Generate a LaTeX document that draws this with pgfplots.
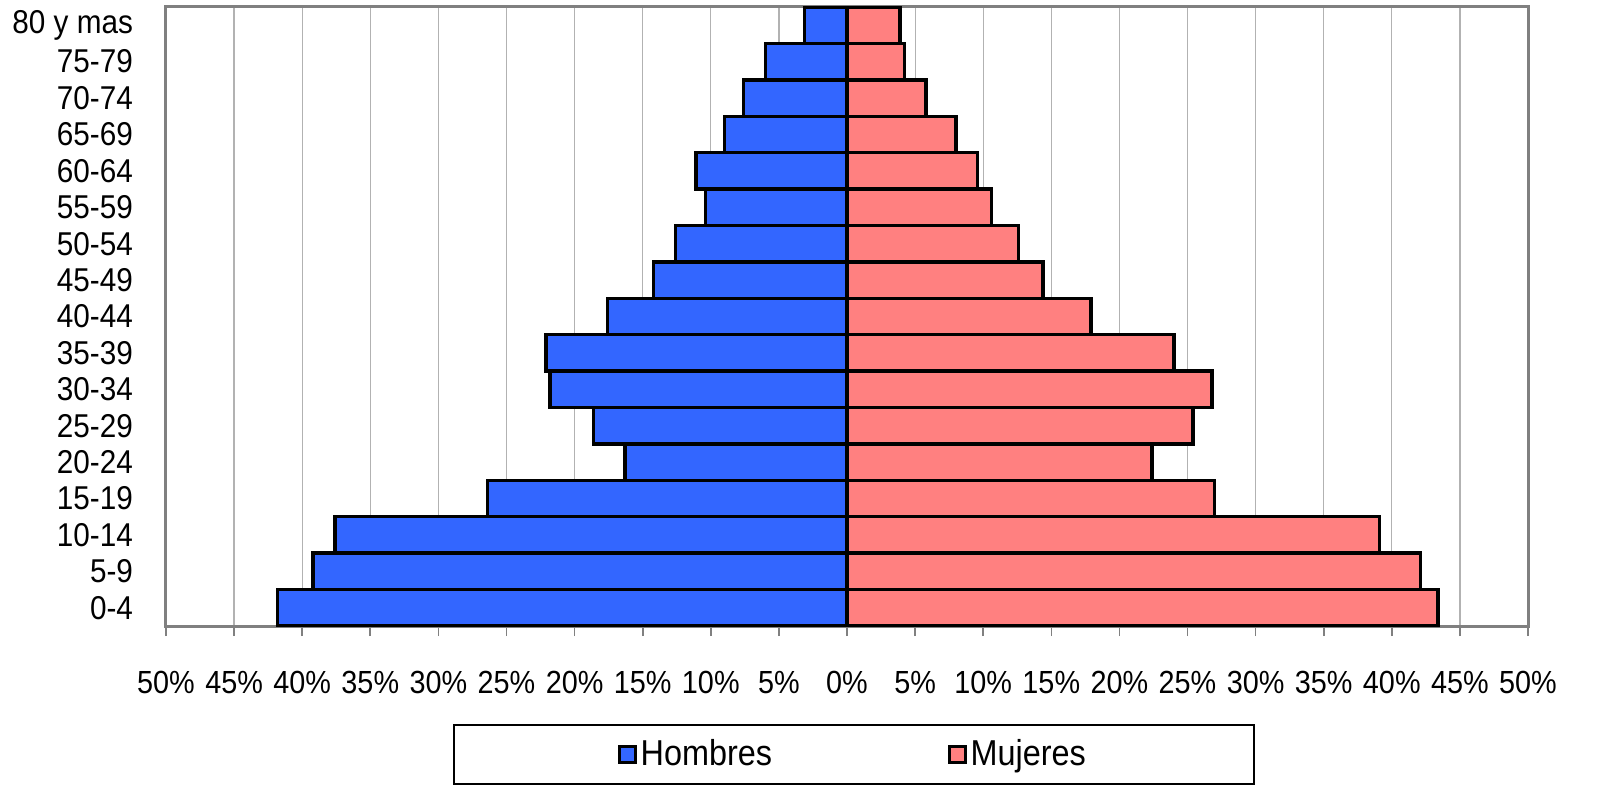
\documentclass[border=0pt]{standalone}
\usepackage{pgfplots}
\pgfplotsset{compat=1.18}
\usepackage{fontspec}
\setmainfont{Liberation Sans}[FakeStretch=0.9]
\definecolor{hombres}{HTML}{3366FF}
\definecolor{mujeres}{HTML}{FF8080}
\begin{document}
\begin{tikzpicture}
\useasboundingbox (-83pt,-91.5pt) rectangle (723.5pt,313pt);
\begin{axis}[
  scale only axis, width=681pt, height=309.5pt,
  xbar, bar shift=0pt, bar width=1,
  xmin=-50, xmax=50, ymin=-0.5, ymax=16.5,
  xtick={-50,-45,...,50},
  xticklabels={50\%,45\%,40\%,35\%,30\%,25\%,20\%,15\%,10\%,5\%,0\%,5\%,10\%,15\%,20\%,25\%,30\%,35\%,40\%,45\%,50\%},
  ytick={0,...,16},
  yticklabels={0-4,5-9,10-14,15-19,20-24,25-29,30-34,35-39,40-44,45-49,50-54,55-59,60-64,65-69,70-74,75-79,80 y mas},
  tick pos=left, tick align=outside, major tick length=5pt,
  xtick style={draw=gray, line width=0.8pt},
  ytick style={draw=none},
  xmajorgrids, major grid style={draw=gray!60, line width=0.6pt},
  axis line style={draw=gray, line width=1.5pt},
  xticklabel style={font=\fontsize{16}{18}\selectfont, yshift=-14pt},
  yticklabel style={font=\fontsize{16.5}{18}\selectfont, xshift=-8pt},
  legend columns=2,
  legend style={at={(0.5,0)}, anchor=north, xshift=3.5pt, yshift=-49pt,
    draw=black, line width=0.8pt, inner xsep=82pt, inner ysep=5.5pt,
    font=\fontsize{18}{20}\selectfont,
    /tikz/every even column/.append style={column sep=86pt}},
  legend image code/.code={\draw[#1, line width=1.3pt] (0pt,-4pt) rectangle (8pt,4pt);},
]
\addplot[draw=black, line width=1.7pt, fill=hombres] coordinates {
(-41.8,0) (-39.2,1) (-37.6,2) (-26.4,3) (-16.3,4) (-18.6,5) (-21.8,6) (-22.1,7)
(-17.6,8) (-14.2,9) (-12.6,10) (-10.4,11) (-11.1,12) (-9.0,13) (-7.6,14) (-6.0,15) (-3.1,16)};
\addplot[draw=black, line width=1.7pt, fill=mujeres] coordinates {
(43.4,0) (42.1,1) (39.1,2) (27.0,3) (22.4,4) (25.4,5) (26.8,6) (24.0,7)
(17.9,8) (14.4,9) (12.6,10) (10.6,11) (9.6,12) (8.0,13) (5.8,14) (4.2,15) (3.9,16)};
\legend{Hombres,Mujeres}
\end{axis}
\end{tikzpicture}
\end{document}
